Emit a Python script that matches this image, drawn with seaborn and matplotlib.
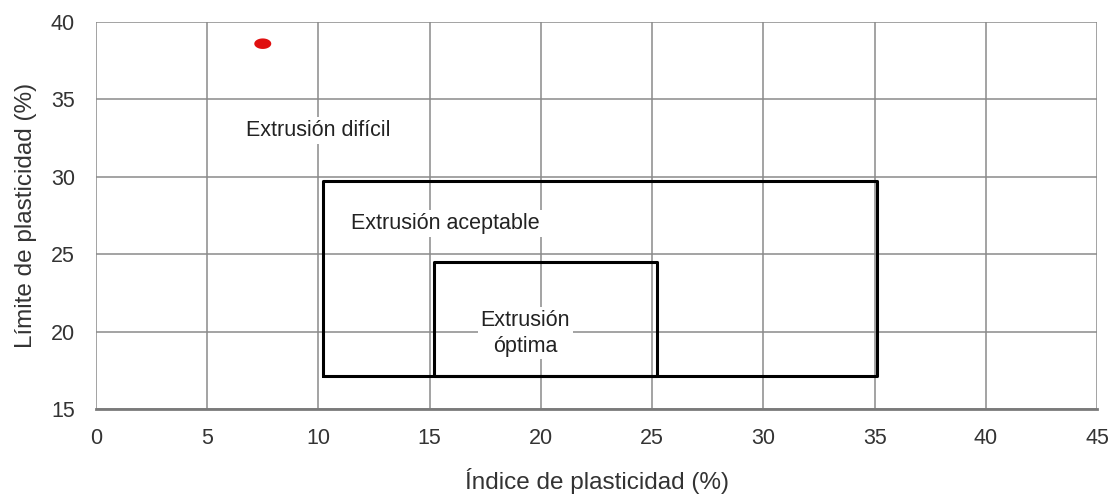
import matplotlib
matplotlib.use("Agg")
import matplotlib.pyplot as plt
import seaborn as sns
import pandas as pd
import numpy as np

# zonas de extrusión (índice de plasticidad x, límite de plasticidad y)
zonas = ["Extrusión aceptable", "Extrusión óptima"]
ip_min = [10.2, 15.2]
ip_max = [35.1, 25.2]
lp_min = [17.1, 17.1]
lp_max = [29.7, 24.5]

# muestra ensayada
muestra_ip = [7.5]
muestra_lp = [38.6]

etiquetas = ["Extrusión difícil", "Extrusión aceptable", "Extrusión\nóptima"]
etiq_x = [10.0, 15.7, 19.3]
etiq_y = [33.0, 27.0, 19.9]

sns.set_style("white")
plt.rcParams['font.family'] = ['Liberation Sans', 'DejaVu Sans']

fig = plt.figure(figsize=(11.15, 4.96), dpi=100)
ax = fig.add_axes([0.086, 0.1754, 0.898, 0.7802])

ax.set_xlim(0, 45)
ax.set_ylim(15, 40)
ax.set_xticks(range(0, 46, 5))
ax.set_yticks(range(15, 41, 5))
ax.grid(True, color='#8a8a8a', linewidth=1.1)
ax.set_axisbelow(True)
for s in ['top', 'right', 'left']:
    ax.spines[s].set_visible(False)
ax.spines['bottom'].set_color('#7a7a7a')
ax.spines['bottom'].set_linewidth(2)
ax.tick_params(axis='y', length=7, color='#8a8a8a', width=1.1, labelsize=15.5,
               pad=8, labelcolor='#333333')
ax.tick_params(axis='x', length=0, labelsize=15.5, pad=14, labelcolor='#333333')

for i in range(len(zonas)):
    xs = [ip_min[i], ip_max[i], ip_max[i], ip_min[i], ip_min[i]]
    ys = [lp_min[i], lp_min[i], lp_max[i], lp_max[i], lp_min[i]]
    box = pd.DataFrame({'x': xs, 'y': ys})
    sns.lineplot(data=box, x='x', y='y', sort=False, estimator=None,
                 color='black', linewidth=2.2, ax=ax)

# marcador elíptico como en la figura original
t = np.linspace(0, 2 * np.pi, 40)
elipse = np.column_stack([np.cos(t), 0.62 * np.sin(t)])
sns.scatterplot(x=muestra_ip, y=muestra_lp, color='#e01010', s=150,
                marker=elipse, edgecolor='none', ax=ax, zorder=5)

for txt, x, y in zip(etiquetas, etiq_x, etiq_y):
    ax.text(x, y, txt, ha='center', va='center', fontsize=15.5, color='#222222',
            linespacing=1.3,
            bbox=dict(facecolor='white', edgecolor='none', pad=2))

ax.set_xlabel("Índice de plasticidad (%)", fontsize=17.5, color='#333333', labelpad=13)
ax.set_ylabel("Límite de plasticidad (%)", fontsize=17.5, color='#333333', labelpad=10)

fig.savefig("out.png", dpi=100)
